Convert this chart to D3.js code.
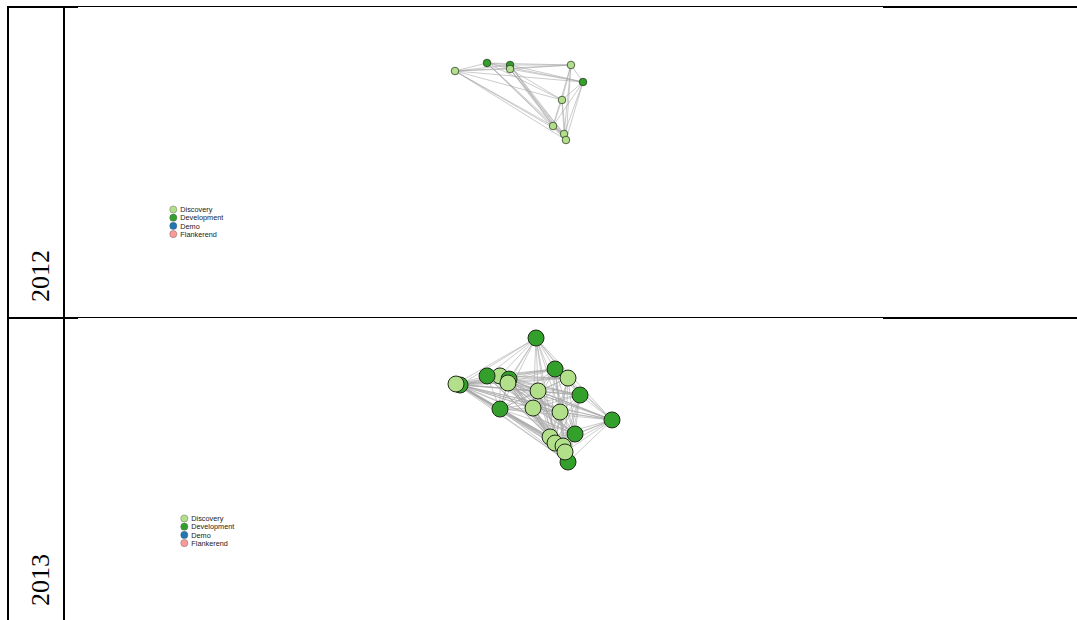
<!DOCTYPE html>
<html>
<head>
<meta charset="utf-8">
<script src="https://cdn.jsdelivr.net/npm/d3@7"></script>
<style>
  html, body { margin: 0; padding: 0; background: #fff; }
  svg { display: block; }
</style>
</head>
<body>
<svg id="chart" width="1077" height="620"></svg>
<script>
// Network stages per year (layout coordinates 0..100)
const years = ["2012", "2013"];
const stages = ["Discovery", "Development", "Demo", "Flankerend"];
const stageColors = ["#b2df8a", "#33a02c", "#1f78b4", "#fb9a99"];

// 2012 nodes: layout x, layout y, stage index
const nodes2012X = [0, 25, 43, 43, 90.6, 100, 83.6, 76.6, 85.2, 86.7];
const nodes2012Y = [10.4, 0, 2.6, 7.8, 2.6, 24.7, 48, 81.8, 92.2, 100];
const nodes2012Stage = [0, 1, 1, 0, 0, 1, 0, 0, 0, 0];
// adjacency: node -> neighbours with a higher index
const links2012 = [
  [1,2,3,4,5,6,7,8,9],
  [2,3,4,5,6,7,8,9],
  [3,4,5,7,8,9],
  [4,5,6,7,8,9],
  [5,6,7,8,9],
  [6,7,8,9],
  [7,8,9],
  [8,9],
  [9],
  []
];

// 2013 nodes
const nodes2013X = [51.3, 63.5, 71.8, 28.2, 19.9, 34, 33.3, 2.6, 0, 52.6, 79.5, 28.2, 49.4, 66.7, 100, 71.8, 76.3, 60.3, 63.5, 68.6, 69.9];
const nodes2013Y = [0, 25, 32.3, 30.6, 30.6, 33.1, 36.3, 37.9, 37.1, 42.7, 46, 57.3, 56.5, 59.7, 66.1, 100, 77.4, 79.8, 84.7, 87.1, 91.9];
const nodes2013Stage = [1, 1, 0, 0, 1, 1, 0, 1, 0, 0, 1, 1, 0, 0, 1, 1, 1, 0, 0, 0, 0];
const links2013 = [
  [1,2,3,4,5,6,7,8,9,10,11,12,13,14,16,17,18],
  [2,3,4,5,6,7,8,9,10,11,12,13,14,15,16,17,19],
  [3,4,5,6,8,9,10,11,12,13,14,16,17,18,20],
  [4,5,6,7,8,9,10,11,12,13,14,15,16,17,19],
  [5,6,8,9,10,11,12,13,14,16,17,18,20],
  [6,7,8,9,10,11,12,13,14,15,16,17,18,19],
  [7,8,9,10,11,12,13,14,16,17,18,20],
  [8,9,10,11,12,13,14,15,16,17,18,19,20],
  [9,10,11,12,13,14,15,16,17,18,19,20],
  [10,11,12,13,14,15,16,17,18,19,20],
  [11,12,13,14,15,16,17,18,19,20],
  [12,13,14,15,16,17,18,19,20],
  [13,14,15,16,17,18,19,20],
  [14,15,16,17,18,19,20],
  [15,16,17,18,19,20],
  [16,17,18,19,20],
  [17,18,19,20],
  [18,19,20],
  [19,20],
  [20],
  []
];

const svg = d3.select("#chart");

// Table grid
const grid = svg.append("g").attr("shape-rendering", "crispEdges");
const rule = (x1, y1, x2, y2, w) =>
  grid.append("line").attr("x1", x1).attr("y1", y1).attr("x2", x2).attr("y2", y2)
    .attr("stroke", "#000").attr("stroke-width", w);
rule(8, 6, 8, 620, 2);
rule(64, 6, 64, 620, 2);
[[7, 6.5], [318, 317.5]].forEach(([yThick, yThin]) => {
  rule(7, yThick, 78, yThick, 2);
  rule(78, yThin, 883, yThin, 1);
  rule(883, yThick, 1077, yThick, 2);
});

// Year labels, rotated
const yearBottom = [302, 606];
years.forEach((yr, i) => {
  svg.append("text")
    .attr("transform", `translate(49,${yearBottom[i]}) rotate(-90)`)
    .attr("font-family", "'Liberation Serif', 'Times New Roman', serif")
    .attr("font-size", 26)
    .attr("fill", "#000")
    .text(yr);
});

function drawNetwork(xs, ys, st, links, xRange, yRange, r) {
  const x = d3.scaleLinear().domain([0, 100]).range(xRange);
  const y = d3.scaleLinear().domain([0, 100]).range(yRange);
  const nodes = xs.map((v, i) => ({ x: v, y: ys[i], s: st[i] }));
  const edges = [];
  links.forEach((ts, i) => ts.forEach(j => edges.push({ a: nodes[i], b: nodes[j] })));
  const g = svg.append("g");
  g.selectAll("line").data(edges).join("line")
    .attr("x1", d => x(d.a.x)).attr("y1", d => y(d.a.y))
    .attr("x2", d => x(d.b.x)).attr("y2", d => y(d.b.y))
    .attr("stroke", "#a8a8a8").attr("stroke-opacity", 0.8).attr("stroke-width", 0.75);
  g.selectAll("circle").data(nodes).join("circle")
    .attr("cx", d => x(d.x)).attr("cy", d => y(d.y)).attr("r", r)
    .attr("fill", d => stageColors[d.s])
    .attr("stroke", "#1f2a18").attr("stroke-width", r > 5 ? 1 : 0.7);
}

drawNetwork(nodes2012X, nodes2012Y, nodes2012Stage, links2012, [455, 583], [63, 140], 3.8);
drawNetwork(nodes2013X, nodes2013Y, nodes2013Stage, links2013, [456, 612], [338, 462], 8);

function legend(cx, cy) {
  const g = svg.append("g");
  stages.forEach((s, i) => {
    g.append("circle").attr("cx", cx).attr("cy", cy + i * 8.2).attr("r", 3.6)
      .attr("fill", stageColors[i]).attr("stroke", "#555").attr("stroke-width", 0.4);
    g.append("text").attr("x", cx + 7).attr("y", cy + i * 8.2 + 2.6)
      .attr("font-family", "'Liberation Sans', Arial, sans-serif")
      .attr("font-size", 7.3).attr("fill", "#222").text(s);
  });
}
legend(173.3, 209.5);
legend(184.3, 518.5);
</script>
</body>
</html>
